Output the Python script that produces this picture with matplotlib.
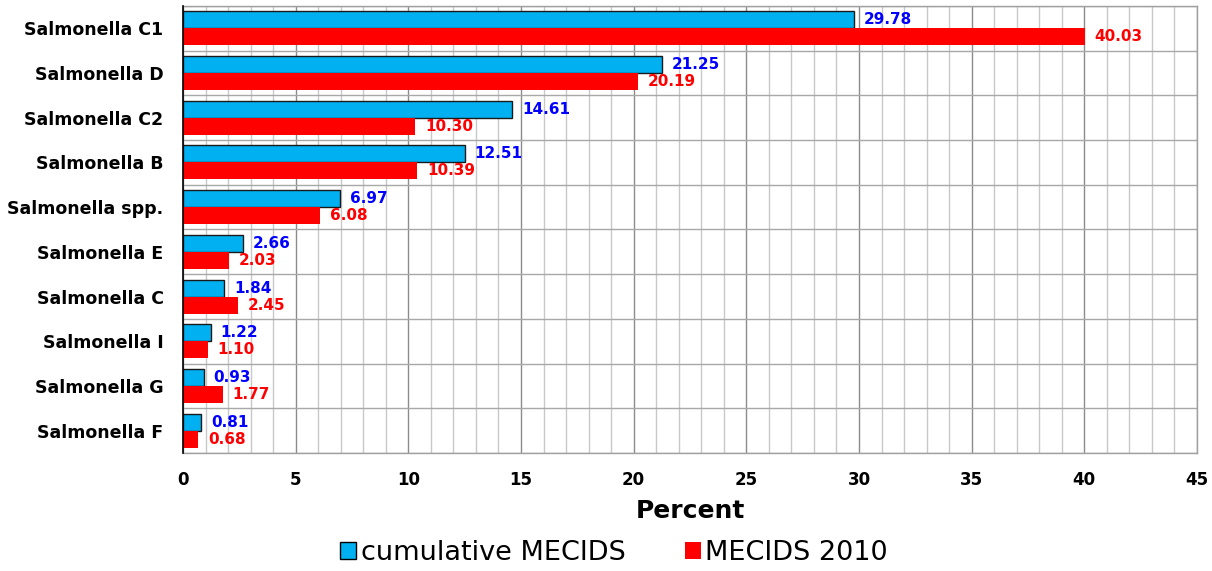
import matplotlib
matplotlib.use('Agg')
import matplotlib.pyplot as plt
import numpy as np
from matplotlib.patches import Patch

categories = ['Salmonella C1', 'Salmonella D', 'Salmonella C2', 'Salmonella B',
              'Salmonella spp.', 'Salmonella E', 'Salmonella C', 'Salmonella I',
              'Salmonella G', 'Salmonella F']
cumulative = [29.78, 21.25, 14.61, 12.51, 6.97, 2.66, 1.84, 1.22, 0.93, 0.81]
mecids_2010 = [40.03, 20.19, 10.30, 10.39, 6.08, 2.03, 2.45, 1.10, 1.77, 0.68]
x_ticks = [0, 5, 10, 15, 20, 25, 30, 35, 40, 45]

BLUE = '#00B0F0'
RED = '#FF0000'

fig = plt.figure(figsize=(12.12, 5.71), dpi=100)
ax = fig.add_axes([0.151, 0.2067, 0.8366, 0.7828])

y = np.arange(len(categories))
h = 0.38
ax.barh(y - h / 2, cumulative, height=h, color=BLUE, edgecolor='#1a1a1a',
        linewidth=1.0, zorder=3)
ax.barh(y + h / 2, mecids_2010, height=h, color=RED, linewidth=0, zorder=3)

# value labels at the end of each bar
for yi, v in zip(y, cumulative):
    ax.annotate(f'{v:.2f}', (v, yi - h / 2), xytext=(7, 0), textcoords='offset points',
                va='center', ha='left', color='#0000FF', fontsize=11, fontweight='bold')
for yi, v in zip(y, mecids_2010):
    ax.annotate(f'{v:.2f}', (v, yi + h / 2), xytext=(7, 0), textcoords='offset points',
                va='center', ha='left', color=RED, fontsize=11, fontweight='bold')

ax.set_xlim(0, 45)
ax.set_ylim(len(categories) - 0.5, -0.5)
ax.set_xticks(x_ticks)
ax.set_xticks(np.arange(0, 46, 1), minor=True)
ax.set_yticks(y)
ax.set_yticklabels(categories, fontsize=12.5, fontweight='bold')
ax.set_yticks(np.arange(-0.5, len(categories), 1), minor=True)
for lab in ax.get_xticklabels():
    lab.set_fontweight('bold')
    lab.set_fontsize(12)
ax.tick_params(axis='both', which='both', length=0)
ax.tick_params(axis='x', pad=13)
ax.tick_params(axis='y', pad=14)

ax.grid(True, axis='x', which='minor', color='#c8c8c8', linewidth=1.0, zorder=0)
ax.grid(True, axis='x', which='major', color='#8c8c8c', linewidth=1.0, zorder=1)
ax.grid(True, axis='y', which='minor', color='#a8a8a8', linewidth=1.0, zorder=1)
ax.grid(False, axis='y', which='major')

for side in ['top', 'right', 'bottom']:
    ax.spines[side].set_color('#a0a0a0')
    ax.spines[side].set_linewidth(1.0)
ax.spines['left'].set_color('black')
ax.spines['left'].set_linewidth(1.2)
ax.spines['left'].set_zorder(4)

ax.set_xlabel('Percent', fontsize=18, fontweight='bold', labelpad=7)

handles = [Patch(facecolor=BLUE, edgecolor='black', linewidth=1.0),
           Patch(facecolor=RED, edgecolor='none')]
fig.legend(handles, ['cumulative MECIDS', 'MECIDS 2010'], loc='center',
           bbox_to_anchor=(0.5066, 0.031), ncol=2, frameon=False, fontsize=19.5,
           handlelength=0.6, handleheight=0.6, handletextpad=0.15, columnspacing=2.2,
           borderpad=0)

fig.savefig('out.png', dpi=100)
